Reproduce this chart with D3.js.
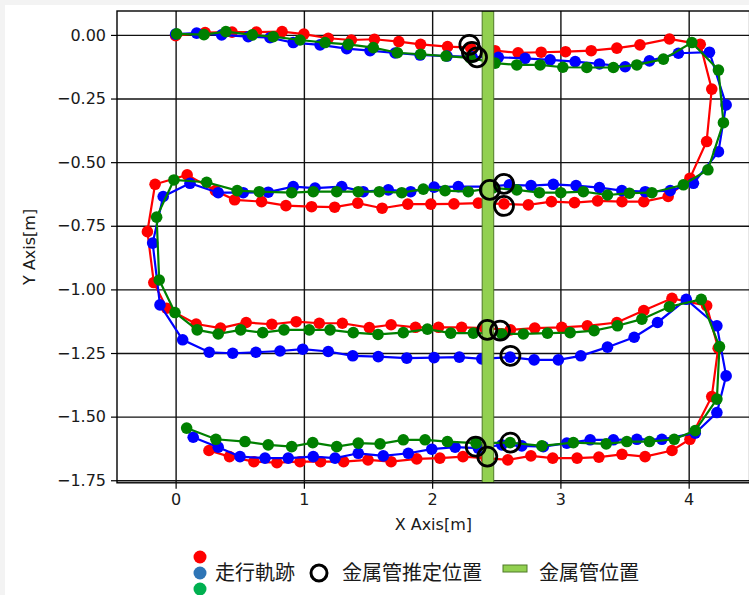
<!DOCTYPE html>
<html>
<head>
<meta charset="utf-8">
<script src="https://cdn.jsdelivr.net/npm/d3@7"></script>
<style>
  html, body { margin: 0; padding: 0; background: #f3f3f3; }
  svg { display: block; }
</style>
</head>
<body>
<svg id="chart" width="749" height="595"></svg>
<script>
// Travel tracks [x, y] in metres, one per run
const redTrack = [
  [0.00,-0.003],[0.23,0.009],[0.44,0.011],[0.63,0.011],[0.83,0.013],[1.00,0.003],[1.19,-0.013],[1.37,-0.020],
  [1.55,-0.017],[1.74,-0.026],[1.91,-0.037],[2.12,-0.046],[2.30,-0.050],[2.49,-0.062],[2.67,-0.070],[2.85,-0.068],
  [3.04,-0.066],[3.24,-0.062],[3.44,-0.052],[3.62,-0.039],[3.85,-0.016],[4.09,-0.037],[4.18,-0.213],[4.14,-0.419],
  [4.01,-0.563],
  [3.84,-0.635],[3.65,-0.655],[3.48,-0.655],[3.29,-0.652],[3.11,-0.659],[2.93,-0.655],[2.75,-0.668],[2.56,-0.664],
  [2.36,-0.661],[2.17,-0.664],[1.99,-0.665],[1.81,-0.665],[1.61,-0.681],[1.42,-0.661],[1.24,-0.677],[1.06,-0.675],
  [0.86,-0.671],[0.67,-0.655],[0.46,-0.648],[0.31,-0.612],[0.09,-0.550],[-0.16,-0.587],[-0.22,-0.773],[-0.17,-0.973],
  [-0.07,-1.074],
  [0.16,-1.136],[0.35,-1.152],[0.55,-1.130],[0.75,-1.137],[0.94,-1.127],[1.12,-1.133],[1.30,-1.133],[1.51,-1.150],
  [1.68,-1.139],[1.87,-1.149],[2.05,-1.149],[2.23,-1.149],[2.41,-1.152],[2.61,-1.159],[2.80,-1.152],[3.01,-1.149],
  [3.21,-1.143],[3.44,-1.130],[3.65,-1.083],[3.87,-1.035],[4.14,-1.064],[4.23,-1.231],[4.18,-1.421],[4.01,-1.589],
  [3.87,-1.633],[3.66,-1.657],[3.48,-1.648],[3.30,-1.659],[3.13,-1.663],[2.94,-1.663],[2.77,-1.654],[2.59,-1.670],
  [2.42,-1.663],[2.24,-1.657],[2.06,-1.663],[1.88,-1.666],[1.68,-1.677],[1.50,-1.670],[1.31,-1.677],[1.13,-1.677],
  [0.97,-1.677],[0.79,-1.681],[0.61,-1.677],[0.42,-1.657],[0.26,-1.633]
];

const blueTrack = [
  [0.00,0.003],[0.164,0.007],[0.359,0.000],[0.566,-0.007],[0.736,-0.011],[0.917,-0.030],[1.126,-0.039],[1.334,-0.054],
  [1.516,-0.062],[1.711,-0.071],[1.906,-0.079],[2.116,-0.083],[2.311,-0.086],[2.516,-0.088],[2.725,-0.092],[2.920,-0.098],
  [3.115,-0.105],[3.304,-0.114],[3.505,-0.125],[3.694,-0.102],[3.920,-0.072],[4.162,-0.068],[4.292,-0.275],[4.232,-0.459],
  [4.037,-0.583],
  [3.856,-0.612],[3.661,-0.616],[3.479,-0.612],[3.304,-0.600],[3.122,-0.592],[2.945,-0.587],[2.771,-0.592],[2.602,-0.589],
  [2.426,-0.596],[2.204,-0.596],[2.015,-0.598],[1.833,-0.616],[1.658,-0.609],[1.463,-0.616],[1.295,-0.596],[1.087,-0.602],
  [0.917,-0.596],[0.722,-0.618],[0.527,-0.620],[0.332,-0.620],[0.112,-0.583],[-0.097,-0.635],[-0.179,-0.818],[-0.122,-1.061],
  [0.055,-1.198],[0.262,-1.247],[0.445,-1.251],[0.626,-1.247],[0.814,-1.242],[0.991,-1.235],[1.190,-1.244],[1.381,-1.261],
  [1.580,-1.264],[1.802,-1.270],[2.015,-1.268],[2.212,-1.266],[2.387,-1.273],[2.608,-1.266],[2.795,-1.277],[2.984,-1.277],
  [3.159,-1.261],[3.367,-1.227],[3.575,-1.188],[3.757,-1.130],[3.981,-1.039],[4.220,-1.143],[4.292,-1.340],[4.220,-1.484],
  [4.051,-1.565],
  [3.791,-1.589],[3.596,-1.589],[3.413,-1.591],[3.232,-1.591],[3.050,-1.604],[2.867,-1.618],[2.699,-1.615],[2.543,-1.611],
  [2.360,-1.624],[2.179,-1.620],[1.997,-1.628],[1.814,-1.644],[1.619,-1.654],[1.424,-1.644],[1.243,-1.663],[1.073,-1.657],
  [0.878,-1.663],[0.697,-1.663],[0.502,-1.657],[0.332,-1.620],[0.137,-1.581]
];

const greenTrack = [
  [0.008,0.004],[0.221,0.001],[0.392,0.013],[0.598,0.000],[0.761,-0.007],[0.970,-0.020],[1.165,-0.030],[1.346,-0.037],
  [1.541,-0.050],[1.729,-0.070],[1.911,-0.076],[2.108,-0.083],[2.296,-0.090],[2.491,-0.111],[2.660,-0.118],[2.842,-0.118],
  [3.019,-0.127],[3.206,-0.128],[3.413,-0.128],[3.596,-0.118],[3.803,-0.095],[4.025,-0.030],[4.232,-0.138],[4.271,-0.345],
  [4.150,-0.530],[3.959,-0.589],
  [3.713,-0.620],[3.538,-0.622],[3.367,-0.629],[3.179,-0.616],[3.003,-0.620],[2.836,-0.620],[2.660,-0.609],[2.475,-0.601],
  [2.282,-0.616],[2.101,-0.612],[1.931,-0.606],[1.763,-0.620],[1.588,-0.616],[1.424,-0.616],[1.256,-0.616],[1.073,-0.616],
  [0.905,-0.620],[0.652,-0.616],[0.480,-0.612],[0.242,-0.579],[-0.013,-0.570],[-0.148,-0.716],[-0.128,-0.963],[-0.005,-1.091],
  [0.168,-1.159],[0.332,-1.175],[0.507,-1.159],[0.679,-1.170],[0.845,-1.159],[1.042,-1.159],[1.204,-1.159],[1.385,-1.170],
  [1.578,-1.177],[1.775,-1.170],[1.963,-1.156],[2.145,-1.172],[2.321,-1.172],[2.543,-1.175],[2.711,-1.175],[2.899,-1.172],
  [3.076,-1.170],[3.263,-1.162],[3.445,-1.143],[3.635,-1.117],[3.850,-1.068],[4.098,-1.039],[4.240,-1.225],[4.220,-1.431],
  [4.051,-1.555],
  [3.887,-1.589],[3.694,-1.598],[3.518,-1.598],[3.357,-1.607],[3.101,-1.602],[2.855,-1.615],[2.608,-1.602],[2.342,-1.604],
  [2.119,-1.598],[1.945,-1.591],[1.775,-1.591],[1.594,-1.607],[1.424,-1.604],[1.256,-1.618],[1.069,-1.602],[0.905,-1.618],
  [0.722,-1.611],[0.541,-1.598],[0.314,-1.589],[0.086,-1.545]
];

// Estimated pipe positions (hollow circles)
const estimatedPipe = [
  [2.29,-0.039],[2.31,-0.067],[2.35,-0.088],
  [2.45,-0.609],[2.56,-0.585],[2.56,-0.672],
  [2.43,-1.159],[2.53,-1.162],[2.61,-1.261],
  [2.34,-1.618],[2.43,-1.657],[2.61,-1.602]
];

// Actual pipe position: x range of the vertical band
const pipeSpan = [2.39, 2.48];

const xTicks = [0, 1, 2, 3, 4];
const yTicks = [0, -0.25, -0.5, -0.75, -1, -1.25, -1.5, -1.75];
const xDomain = [-0.457, 4.475];
const yDomain = [0.094, -1.760];

const trackColors = ["#ff0000", "#0000ff", "#008000"];
const legendDotColors = ["#ff0000", "#2e75b6", "#00b050"];
const legendLabels = ["走行軌跡", "金属管推定位置", "金属管位置"];

const plot = { left: 117, top: 11, right: 749.6, bottom: 482.8 };

const svg = d3.select("#chart");

// figure background
svg.append("rect").attr("x", 5).attr("y", 5).attr("width", 744).attr("height", 590).attr("fill", "#ffffff");

const x = d3.scaleLinear().domain(xDomain).range([plot.left, plot.right]);
const y = d3.scaleLinear().domain(yDomain).range([plot.top, plot.bottom]);
const W = plot.right - plot.left, H = plot.bottom - plot.top;

svg.append("defs").append("clipPath").attr("id", "plotClip")
  .append("rect").attr("x", plot.left).attr("y", plot.top).attr("width", W).attr("height", H);

// grid
const gridStyle = g => g.selectAll("line").attr("stroke", "#111").attr("stroke-width", 1.4);
const grid = svg.append("g").attr("clip-path", "url(#plotClip)");
grid.append("g").attr("transform", `translate(0,${plot.bottom})`)
  .call(d3.axisBottom(x).tickValues(xTicks).tickSize(-H).tickFormat(""))
  .call(g => g.select(".domain").remove())
  .call(gridStyle);
grid.append("g").attr("transform", `translate(${plot.left},0)`)
  .call(d3.axisLeft(y).tickValues(yTicks).tickSize(-W).tickFormat(""))
  .call(g => g.select(".domain").remove())
  .call(gridStyle);

// tracks
const layer = svg.append("g").attr("clip-path", "url(#plotClip)");
const line = d3.line().x(d => x(d[0])).y(d => y(d[1]));
[redTrack, blueTrack, greenTrack].forEach((track, i) => {
  const g = layer.append("g");
  g.append("path").datum(track).attr("d", line)
    .attr("fill", "none").attr("stroke", trackColors[i]).attr("stroke-width", 2.2);
  g.selectAll("circle").data(track).join("circle")
    .attr("cx", d => x(d[0])).attr("cy", d => y(d[1])).attr("r", 5.8)
    .attr("fill", trackColors[i]);
});

// pipe band
layer.append("rect")
  .attr("x", x(pipeSpan[0])).attr("width", x(pipeSpan[1]) - x(pipeSpan[0]))
  .attr("y", plot.top).attr("height", H)
  .attr("fill", "#92d050").attr("stroke", "#4f7a28").attr("stroke-width", 1);

// estimated positions
layer.selectAll("circle.est").data(estimatedPipe).join("circle").attr("class", "est")
  .attr("cx", d => x(d[0])).attr("cy", d => y(d[1])).attr("r", 9.5)
  .attr("fill", "none").attr("stroke", "#000").attr("stroke-width", 2.8);

// axes
const tickFont = "'DejaVu Sans', sans-serif";
const xAxis = svg.append("g").attr("transform", `translate(0,${plot.bottom})`)
  .call(d3.axisBottom(x).tickValues(xTicks).tickFormat(d3.format("d")).tickSize(6).tickPadding(5));
const yAxis = svg.append("g").attr("transform", `translate(${plot.left},0)`)
  .call(d3.axisLeft(y).tickValues(yTicks).tickFormat(d3.format(".2f")).tickSize(6).tickPadding(5));
[xAxis, yAxis].forEach(a => {
  a.select(".domain").remove();
  a.selectAll("line").attr("stroke", "#000").attr("stroke-width", 1.2);
  a.selectAll("text").attr("font-family", tickFont).attr("font-size", 16).attr("fill", "#1a1a1a");
});

// frame
svg.append("rect").attr("x", plot.left).attr("y", plot.top).attr("width", W).attr("height", H)
  .attr("fill", "none").attr("stroke", "#000").attr("stroke-width", 1.4);

// axis titles
svg.append("text").attr("x", (plot.left + plot.right) / 2).attr("y", 530)
  .attr("text-anchor", "middle").attr("font-family", tickFont).attr("font-size", 16).attr("fill", "#1a1a1a")
  .text("X Axis[m]");
svg.append("text").attr("transform", `translate(35,${(plot.top + plot.bottom) / 2}) rotate(-90)`)
  .attr("text-anchor", "middle").attr("font-family", tickFont).attr("font-size", 16).attr("fill", "#1a1a1a")
  .text("Y Axis[m]");

// legend
const jpFont = "'Noto Sans CJK JP', sans-serif";
const legend = svg.append("g");
const legendY = 573;
legendDotColors.forEach((c, i) => {
  legend.append("circle").attr("cx", 200).attr("cy", legendY - 16 + i * 16).attr("r", 6.5).attr("fill", c);
});
legend.append("text").attr("x", 215).attr("y", legendY).attr("dy", "0.35em")
  .attr("font-family", jpFont).attr("font-size", 20).attr("fill", "#1a1a1a").text(legendLabels[0]);
legend.append("circle").attr("cx", 319).attr("cy", legendY).attr("r", 8)
  .attr("fill", "none").attr("stroke", "#000").attr("stroke-width", 3);
legend.append("text").attr("x", 342).attr("y", legendY).attr("dy", "0.35em")
  .attr("font-family", jpFont).attr("font-size", 20).attr("fill", "#1a1a1a").text(legendLabels[1]);
legend.append("rect").attr("x", 503).attr("y", 565).attr("width", 24).attr("height", 7)
  .attr("fill", "#92d050").attr("stroke", "#4f7a28").attr("stroke-width", 1);
legend.append("text").attr("x", 539).attr("y", legendY).attr("dy", "0.35em")
  .attr("font-family", jpFont).attr("font-size", 20).attr("fill", "#1a1a1a").text(legendLabels[2]);
</script>
</body>
</html>
